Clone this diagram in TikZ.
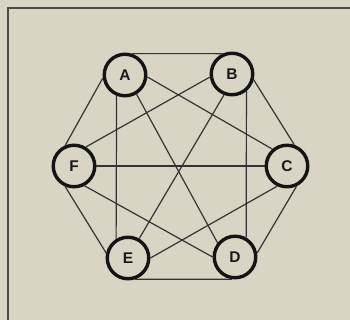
\documentclass[tikz,border=0pt]{standalone}
\usepackage{fontspec}
\setmainfont{Liberation Sans}
\begin{document}
\begin{tikzpicture}[x=1pt,y=-1pt,
  vtx/.style={circle,draw=black!92,line width=3.4pt,minimum size=41.5pt,inner sep=0pt,
    fill=paper,font=\bfseries\fontsize{15.5}{16}\selectfont,text=black!90},
  edge/.style={draw=black!80,line width=1.2pt},
  frame/.style={draw=black!70,line width=2pt}]
\definecolor{paper}{RGB}{216,213,196}
\fill[paper] (0,0) rectangle (350,320);
\useasboundingbox (0,0) rectangle (350,320);
\coordinate (f0) at (7,8);
\coordinate (f1) at (350,8);
\coordinate (f2) at (8,320);
\draw[frame] (f1) -- (f0 -| f2) -- (f2);
\node[vtx] (A) at (125,75) {A};
\node[vtx] (B) at (232,74) {B};
\node[vtx] (C) at (287,166) {C};
\node[vtx] (D) at (235,257) {D};
\node[vtx] (E) at (128,258) {E};
\node[vtx] (F) at (74,166) {F};
% outer edges
\draw[edge] (A.72) -- (B.115);
\draw[edge] (B.345) -- (C.71);
\draw[edge] (C.295) -- (D.10);
\draw[edge] (D.262) -- (E.288);
\draw[edge] (E.167) -- (F.247);
\draw[edge] (F.113) -- (A.188);
% verticals
\draw[edge] (A.248) -- (E.122);
\draw[edge] (B.310) -- (D.60);
% diagonals
\draw[edge] (A.355) -- (C.131);
\draw[edge] (A.301) -- (D.141);
\draw[edge] (B.188) -- (F.58);
\draw[edge] (B.249) -- (E.60);
\draw[edge] (F.0) -- (C.180);
\draw[edge] (F.298) -- (D.180);
\draw[edge] (C.244) -- (E.0);
\end{tikzpicture}
\end{document}
